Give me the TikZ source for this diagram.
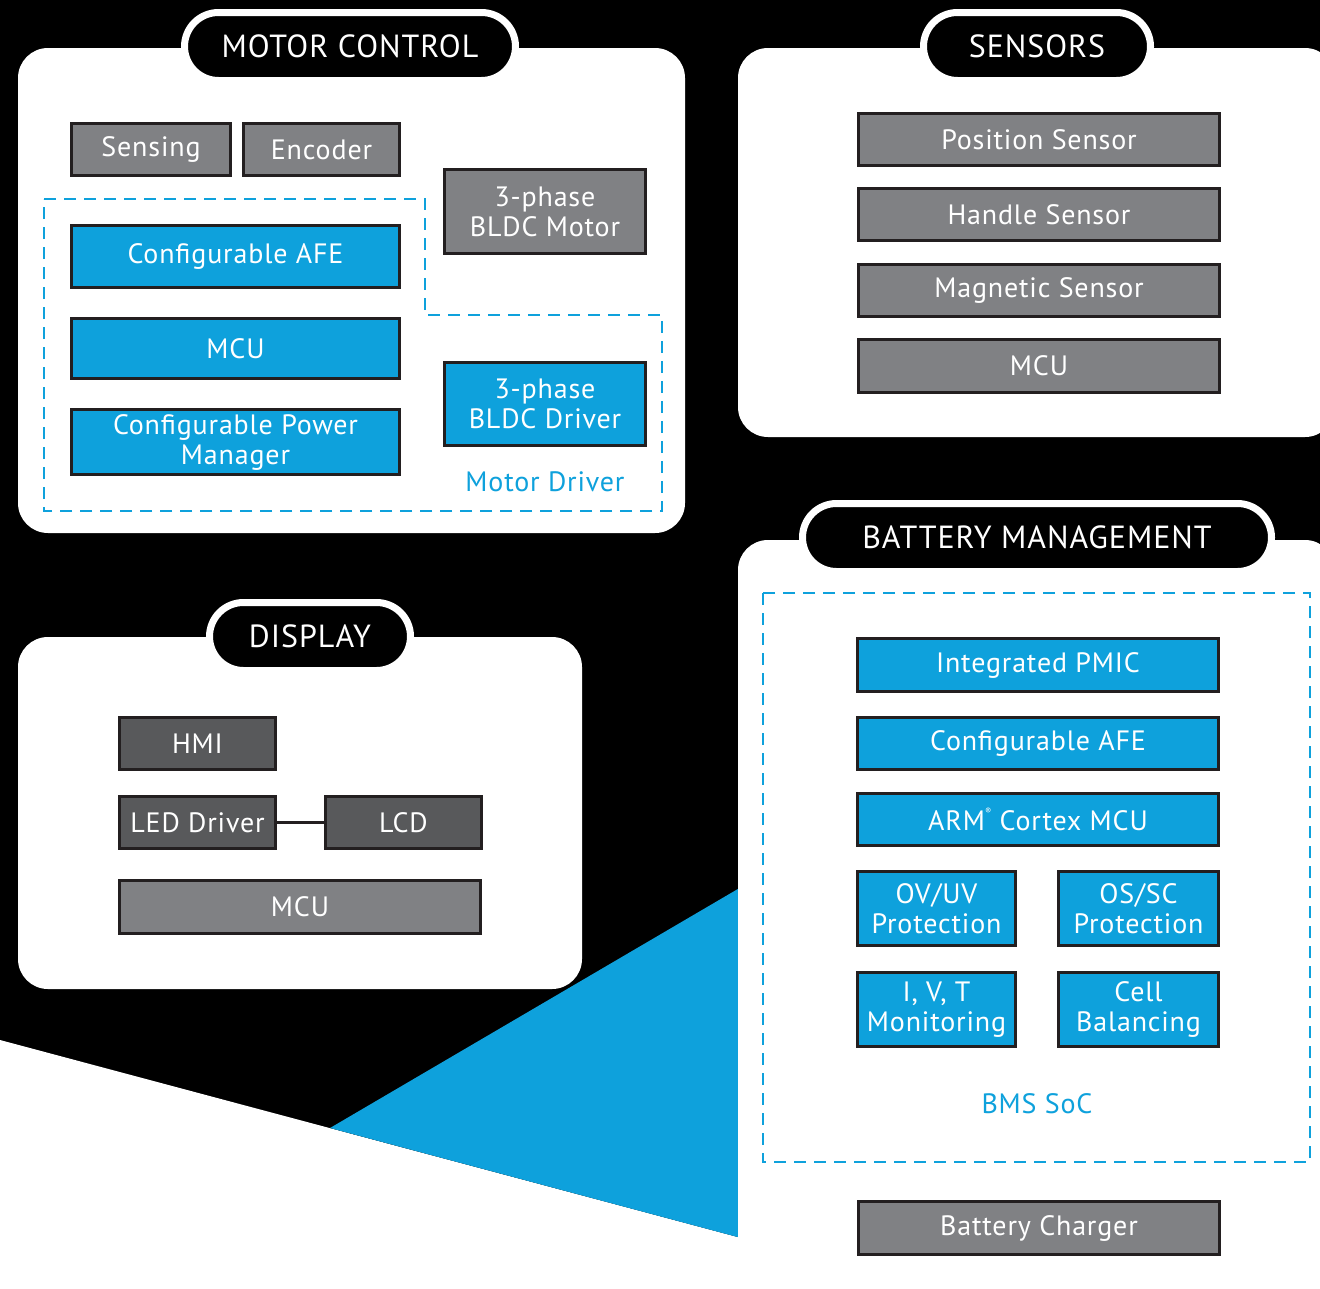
\documentclass[tikz,border=0pt]{standalone}
\usepackage{fontspec}
\setmainfont{PT Sans}[LetterSpace=3]
\usetikzlibrary{shapes.misc}
\definecolor{tiblue}{HTML}{0EA1DC}
\definecolor{boxgray}{HTML}{808184}
\definecolor{boxdark}{HTML}{58595B}
\definecolor{boxline}{HTML}{231F20}
\begin{document}
\begin{tikzpicture}[x=1pt,y=-1pt,
	panel/.style={fill=white,rounded corners=30pt},
	pill/.style={rounded rectangle,fill=black,draw=white,line width=7pt,text=white,minimum height=68pt,inner sep=0pt,font=\fontsize{32}{36}\selectfont},
	blk/.style={draw=boxline,line width=3pt,inner sep=0pt,align=center,text=white,font=\fontsize{28}{30}\selectfont},
	graybox/.style={blk,fill=boxgray},
	darkbox/.style={blk,fill=boxdark},
	bluebox/.style={blk,fill=tiblue},
	group/.style={draw=tiblue,line width=2.5pt,dash pattern=on 12pt off 8pt},
	grouplabel/.style={text=tiblue,font=\fontsize{28}{30}\selectfont}]
	\useasboundingbox (0,0) rectangle (1320,1288);
	\fill[black] (0,0) rectangle (1320,1288);
	\fill[white] (0,1040) -- (760,1243) -- (760,1288) -- (0,1288) -- cycle;
	\fill[tiblue] (330,1128) -- (760,876) -- (760,1243) -- cycle;
	\fill[tiblue] (1320,1274) -- (1320,1288) -- (1306,1288) -- cycle;
	\fill[panel] (18,48) rectangle (685,533);
	\fill[panel] (738,48) rectangle (1335,437);
	\fill[panel] (18,637) rectangle (582,989);
	\fill[panel] (738,540) rectangle (1335,1330);

	% motor control
	\node[pill,minimum width=331] (mchead) at (350,46.5) {MOTOR CONTROL};
	\draw[group] (44,199) -- (425,199) -- (425,315) -- (662,315) -- (662,511) -- (44,511) -- cycle;
	\node[graybox,minimum width=159,minimum height=52] (sensing) at (151,149.5) {Sensing};
	\node[graybox,minimum width=156,minimum height=52] (encoder) at (321.5,149.5) {Encoder};
	\node[graybox,minimum width=201,minimum height=84] (bldcmotor) at (545,211.5) {3-phase\\BLDC Motor};
	\node[bluebox,minimum width=328,minimum height=62] (mcafe) at (235.5,256.5) {Configurable AFE};
	\node[bluebox,minimum width=328,minimum height=60] (mcmcu) at (235.5,348.5) {MCU};
	\node[bluebox,minimum width=328,minimum height=65] (mcpower) at (235.5,442) {Configurable Power\\Manager};
	\node[bluebox,minimum width=201,minimum height=83] (bldcdrv) at (545,404) {3-phase\\BLDC Driver};
	\node[grouplabel] (drvlabel) at (545,482) {Motor Driver};

	% sensors
	\node[pill,minimum width=227] (snhead) at (1037,46.5) {SENSORS};
	\node[graybox,minimum width=361,minimum height=52] (possens) at (1039,139.5) {Position Sensor};
	\node[graybox,minimum width=361,minimum height=52] (handsens) at (1039,214.5) {Handle Sensor};
	\node[graybox,minimum width=361,minimum height=52] (magsens) at (1039,290.5) {Magnetic Sensor};
	\node[graybox,minimum width=361,minimum height=53] (snmcu) at (1039,366) {MCU};

	% display
	\node[pill,minimum width=201] (dphead) at (310,636.5) {DISPLAY};
	\node[darkbox,minimum width=156,minimum height=52] (hmi) at (197.5,743.5) {HMI};
	\node[darkbox,minimum width=156,minimum height=52] (leddrv) at (197.5,822.5) {LED Driver};
	\node[darkbox,minimum width=156,minimum height=52] (lcd) at (403.5,822.5) {LCD};
	\node[graybox,minimum width=361,minimum height=53] (dpmcu) at (300,907) {MCU};
	\draw[boxline,line width=3pt] (leddrv) -- (lcd);

	% battery management
	\node[pill,minimum width=469] (bmhead) at (1037,537.5) {BATTERY MANAGEMENT};
	\draw[group] (763,593) rectangle (1310,1162);
	\node[bluebox,minimum width=361,minimum height=53] (pmic) at (1038,665) {Integrated PMIC};
	\node[bluebox,minimum width=361,minimum height=52] (bmafe) at (1038,743.5) {Configurable AFE};
	\node[bluebox,minimum width=361,minimum height=52] (armmcu) at (1038,819.5) {ARM\raisebox{0.55em}{\fontsize{9}{9}\selectfont ®} Cortex MCU};
	\node[bluebox,minimum width=158,minimum height=74] (ovuv) at (936.5,908.5) {OV/UV\\Protection};
	\node[bluebox,minimum width=160,minimum height=74] (ossc) at (1138.5,908.5) {OS/SC\\Protection};
	\node[bluebox,minimum width=158,minimum height=74] (ivt) at (936.5,1009.5) {I, V, T\\Monitoring};
	\node[bluebox,minimum width=160,minimum height=74] (cellbal) at (1138.5,1009.5) {Cell\\Balancing};
	\node[grouplabel] (soclabel) at (1037,1104) {BMS SoC};
	\node[graybox,minimum width=361,minimum height=53] (charger) at (1039,1228) {Battery Charger};
\end{tikzpicture}
\end{document}
